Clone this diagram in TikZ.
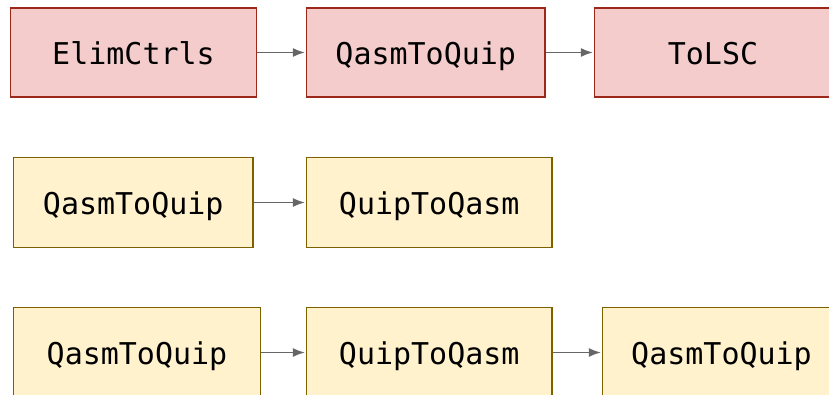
\documentclass[tikz,border=0pt]{standalone}
\usepackage{fontspec}
\setmonofont{DejaVu Sans Mono}
\usetikzlibrary{arrows.meta}

\definecolor{redfill}{HTML}{F4CCCC}
\definecolor{redline}{RGB}{155,40,25}
\definecolor{yelfill}{HTML}{FFF2CC}
\definecolor{yelline}{RGB}{127,96,0}
\definecolor{flowgray}{HTML}{666666}

\tikzset{
  passbox/.style={rectangle, inner sep=0pt, line width=1.6pt,
    font=\ttfamily\fontsize{30}{36}\selectfont, text=black,
    text height=24.9pt, text depth=0pt},
  redpass/.style={passbox, fill=redfill, draw=redline},
  yelpass/.style={passbox, fill=yelfill, draw=yelline},
  flow/.style={draw=flowgray, line width=1.5pt,
    -{Latex[length=12pt,width=9pt]}, shorten >=0.8pt}
}

\begin{document}
\begin{tikzpicture}[x=1pt, y=-1pt]
  \useasboundingbox (0,0) rectangle (829,394);
  \clip (0,0) rectangle (829,394);

  % first pipeline
  \node[redpass, minimum width=246pt, minimum height=89pt] (a1) at (133.5,52.5) {ElimCtrls};
  \node[redpass, minimum width=238.5pt, minimum height=89pt] (a2) at (425.75,52.5) {QasmToQuip};
  \node[redpass, minimum width=237pt, minimum height=89pt] (a3) at (713,52.5) {ToLSC};
  \draw[flow] (a1) -- (a2);
  \draw[flow] (a2) -- (a3);

  % second pipeline
  \node[yelpass, minimum width=239.5pt, minimum height=90pt] (b1) at (133.25,202.5) {QasmToQuip};
  \node[yelpass, minimum width=245.5pt, minimum height=90pt] (b2) at (429.25,202.5) {QuipToQasm};
  \draw[flow] (b1) -- (b2);

  % third pipeline
  \node[yelpass, minimum width=247pt, minimum height=90pt] (c1) at (137,352.5) {QasmToQuip};
  \node[yelpass, minimum width=245.5pt, minimum height=90pt] (c2) at (429.25,352.5) {QuipToQasm};
  \node[yelpass, minimum width=238pt, minimum height=90pt] (c3) at (721.5,352.5) {QasmToQuip};
  \draw[flow] (c1) -- (c2);
  \draw[flow] (c2) -- (c3);
\end{tikzpicture}
\end{document}
